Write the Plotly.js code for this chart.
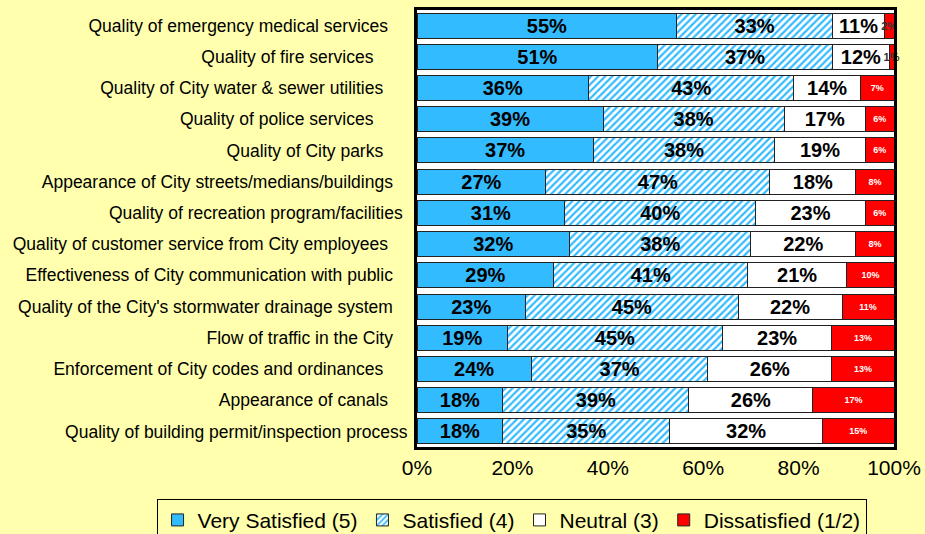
<!DOCTYPE html>
<html>
<head>
<meta charset="utf-8">
<script src="https://cdn.plot.ly/plotly-3.0.1.min.js"></script>
<style>html,body{margin:0;padding:0;background:#FFFFAD;}</style>
</head>
<body>
<div id="chart" style="width:925px;height:534px;"></div>
<script>
var NB = '\u00a0';
var categories = [
  'Quality of emergency medical services',
  'Quality of fire services',
  'Quality of City water & sewer utilities',
  'Quality of police services',
  'Quality of City parks',
  'Appearance of City streets/medians/buildings',
  'Quality of recreation program/facilities',
  'Quality of customer service from City employees',
  'Effectiveness of City communication with public',
  "Quality of the City's stormwater drainage system",
  'Flow of traffic in the City',
  'Enforcement of City codes and ordinances',
  'Appearance of canals',
  'Quality of building permit/inspection process'
];
var labelPad = [4, 7, 5, 7, 5, 3, 1, 4, 3, 3, 3, 5, 4, 0];
var verySatisfied = [55, 51, 36, 39, 37, 27, 31, 32, 29, 23, 19, 24, 18, 18];
var satisfied     = [33, 37, 43, 38, 38, 47, 40, 38, 41, 45, 45, 37, 39, 35];
var neutral       = [11, 12, 14, 17, 19, 18, 23, 22, 21, 22, 23, 26, 26, 32];
var dissatisfied  = [2, 1, 7, 6, 6, 8, 6, 8, 10, 11, 13, 13, 17, 15];
var seriesNames = ['Very Satisfied (5)', 'Satisfied (4)', 'Neutral (3)', 'Dissatisfied (1/2)'];

var yLabels = categories.map(function(c, i){ return c + NB.repeat(labelPad[i]); });
var font = 'Liberation Sans, Arial, Helvetica, sans-serif';
var outline = {color: '#222', width: 1};

function mk(vals, name, marker, tf, clip) {
  return {
    type: 'bar', orientation: 'h', name: name,
    x: vals, y: yLabels,
    marker: marker,
    text: vals.map(function(v){ return v + '%'; }),
    textposition: 'inside', insidetextanchor: 'middle', textangle: 0,
    constraintext: 'none', cliponaxis: clip,
    textfont: tf,
    hoverinfo: 'x+y+name'
  };
}
var bigText = {family: font, size: 20, color: '#000', weight: 'bold'};
var traces = [
  mk(verySatisfied, seriesNames[0], {color: '#33BBFF', line: outline}, bigText, true),
  mk(satisfied, seriesNames[1], {color: '#FFFFFF', line: outline,
      pattern: {shape: '/', fgcolor: '#33BBFF', bgcolor: '#FFFFFF', size: 5, solidity: 0.45}}, bigText, true),
  mk(neutral, seriesNames[2], {color: '#FFFFFF', line: outline}, bigText, true),
  mk(dissatisfied, seriesNames[3], {color: '#FF0000', line: outline}, {
      family: font, weight: 'bold',
      size: dissatisfied.map(function(v, i){ return i < 2 ? 11 : 9; }),
      color: dissatisfied.map(function(v, i){ return i < 2 ? '#333333' : '#FFFFFF'; })
  }, false)
];

var layout = {
  width: 925, height: 534,
  paper_bgcolor: '#FFFFAD', plot_bgcolor: '#FFFFFF',
  barmode: 'stack', barnorm: 'percent', bargap: 0.2,
  margin: {l: 417, r: 31, t: 10, b: 87, autoexpand: false},
  font: {family: font, color: '#000'},
  xaxis: {
    range: [0, 100], tickvals: [0, 20, 40, 60, 80, 100],
    ticktext: ['0%', '20%', '40%', '60%', '80%', '100%'],
    tickfont: {size: 21}, showgrid: false, zeroline: false,
    showline: true, mirror: true, linecolor: '#000', linewidth: 3,
    ticks: '', ticklabelstandoff: 0, fixedrange: true
  },
  yaxis: {
    autorange: 'reversed', tickfont: {size: 17.5},
    showline: true, mirror: true, linecolor: '#000', linewidth: 3,
    ticks: '', ticklabelstandoff: 3, showgrid: false, fixedrange: true
  },
  showlegend: true,
  legend: {
    orientation: 'h', x: -0.546, xanchor: 'left', y: -0.1185, yanchor: 'top',
    bgcolor: '#FFFFAD', bordercolor: '#000', borderwidth: 1,
    font: {size: 21}, traceorder: 'normal', itemwidth: 30
  }
};

Plotly.newPlot('chart', traces, layout, {displayModeBar: false, staticPlot: true});
</script>
</body>
</html>
